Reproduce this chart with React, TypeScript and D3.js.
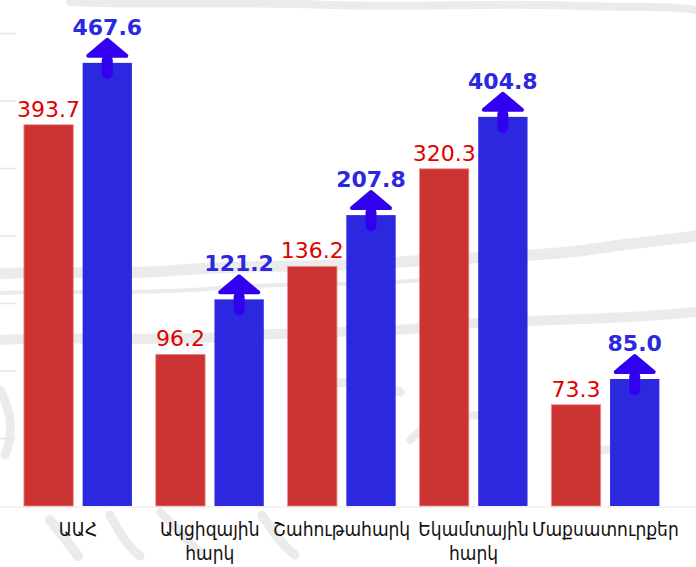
import React from "react";
import * as d3 from "d3";

const categories = ["ԱԱՀ", "Ակցիզային հարկ", "Շահութահարկ", "Եկամտային հարկ", "Մաքսատուրքեր"];
const prevValues = [393.7, 96.2, 136.2, 320.3, 73.3];
const currValues = [467.6, 121.2, 207.8, 404.8, 85.0];
const seriesKeys = ["prev", "curr"];

// the infographic's value axis is not linear: calibrated at round values
const axisKnots = [0, 50, 100, 150, 200, 300, 400, 500];

const W = 696;
const H = 567;
const BASE = 506;

const RED = "#cc3333";
const RED_TEXT = "#e00000";
const BLUE = "#2b28e0";
const ARROW = "#3100ee";
const BG = "#ebebeb";

// decorative faint brush strokes of the background texture
const bgStrokes: [string, number][] = [
  ["M70,2 C160,6 250,1 330,5 C420,8 500,2 580,6 C630,8 670,5 696,10", 8],
  ["M0,274 C60,270 120,276 180,270 C260,264 330,268 400,262 C470,256 540,258 600,248 C640,242 670,240 696,236", 11],
  ["M0,293 C70,290 140,295 220,288 C300,282 360,286 420,280", 4],
  ["M0,340 C80,336 160,342 240,336 C320,330 380,334 440,326 C520,318 600,322 696,312", 10],
  ["M300,392 C330,380 370,378 400,392", 9],
  ["M410,440 C430,420 460,410 500,418", 8],
  ["M560,470 C580,450 610,445 640,452", 8],
  ["M0,390 C10,410 15,430 5,455", 9],
  ["M50,520 C62,535 70,545 78,556", 10],
  ["M110,515 C118,530 126,545 140,556", 9],
  ["M160,512 C175,525 185,540 200,552", 8],
  ["M262,515 C272,530 282,545 295,555", 9],
];

export default function App() {
  const x0 = d3.scaleBand<string>().domain(categories).range([12, 671.3]).padding(0);
  const x1 = d3.scaleBand<string>().domain(seriesKeys).range([-54, 54]).paddingInner(0.16);
  const y = d3.scaleLinear().domain(axisKnots).range([506, 456, 346, 236, 218, 181, 121, 35]);
  const fmt = d3.format(".1f");
  const bw = x1.bandwidth();

  const grid = d3.range(1, 8).map((k) => BASE - k * 67.5);

  return (
    <svg
      width={W}
      height={H}
      viewBox={`0 0 ${W} ${H}`}
      style={{ position: "absolute", left: 0, top: 0, background: "#fff" }}
    >
      <g fill="none" stroke={BG} strokeLinecap="round">
        {bgStrokes.map(([d, w], i) => (
          <path key={i} d={d} strokeWidth={w} />
        ))}
      </g>
      <g stroke="#e6e6e6" strokeWidth={1.5}>
        {grid.map((gy, i) => (
          <line key={i} x1={0} x2={16} y1={gy} y2={gy} />
        ))}
        <line x1={0} x2={W} y1={BASE + 1} y2={BASE + 1} strokeWidth={1} />
      </g>
      {categories.map((cat, i) => {
        const cx = (x0(cat) as number) + x0.bandwidth() / 2;
        const rx = cx + (x1("prev") as number);
        const bx = cx + (x1("curr") as number);
        const ry = y(prevValues[i]);
        const by = y(currValues[i]);
        const bcx = bx + bw / 2;
        const lines = cat.split(" ");
        return (
          <g key={cat}>
            <rect x={rx} y={ry} width={bw} height={BASE - ry} fill={RED} stroke="#e88" strokeWidth={0.8} />
            <rect x={bx} y={by} width={bw} height={BASE - by} fill={BLUE} />
            <text
              x={rx + bw / 2}
              y={ry - 8}
              textAnchor="middle"
              fill={RED_TEXT}
              fontFamily="DejaVu Sans"
              fontSize={22}
            >
              {fmt(prevValues[i])}
            </text>
            <rect x={bcx - 5.5} y={by - 8} width={11} height={24} rx={5.5} fill={ARROW} />
            <path
              d={`M${bcx},${by - 23} L${bcx + 19},${by - 7} L${bcx - 19},${by - 7} Z`}
              fill={ARROW}
              stroke={ARROW}
              strokeWidth={4}
              strokeLinejoin="round"
            />
            <text
              x={bcx}
              y={by - 28}
              textAnchor="middle"
              fill={BLUE}
              fontFamily="DejaVu Sans"
              fontWeight="bold"
              fontSize={22}
            >
              {fmt(currValues[i])}
            </text>
            {lines.map((ln, j) => (
              <text
                key={j}
                x={cx}
                y={536 + j * 24}
                textAnchor="middle"
                fill="#111"
                fontFamily="'DejaVu Sans Condensed', 'DejaVu Sans'"
                fontStretch="condensed"
                fontSize={19}
              >
                {ln}
              </text>
            ))}
          </g>
        );
      })}
    </svg>
  );
}
